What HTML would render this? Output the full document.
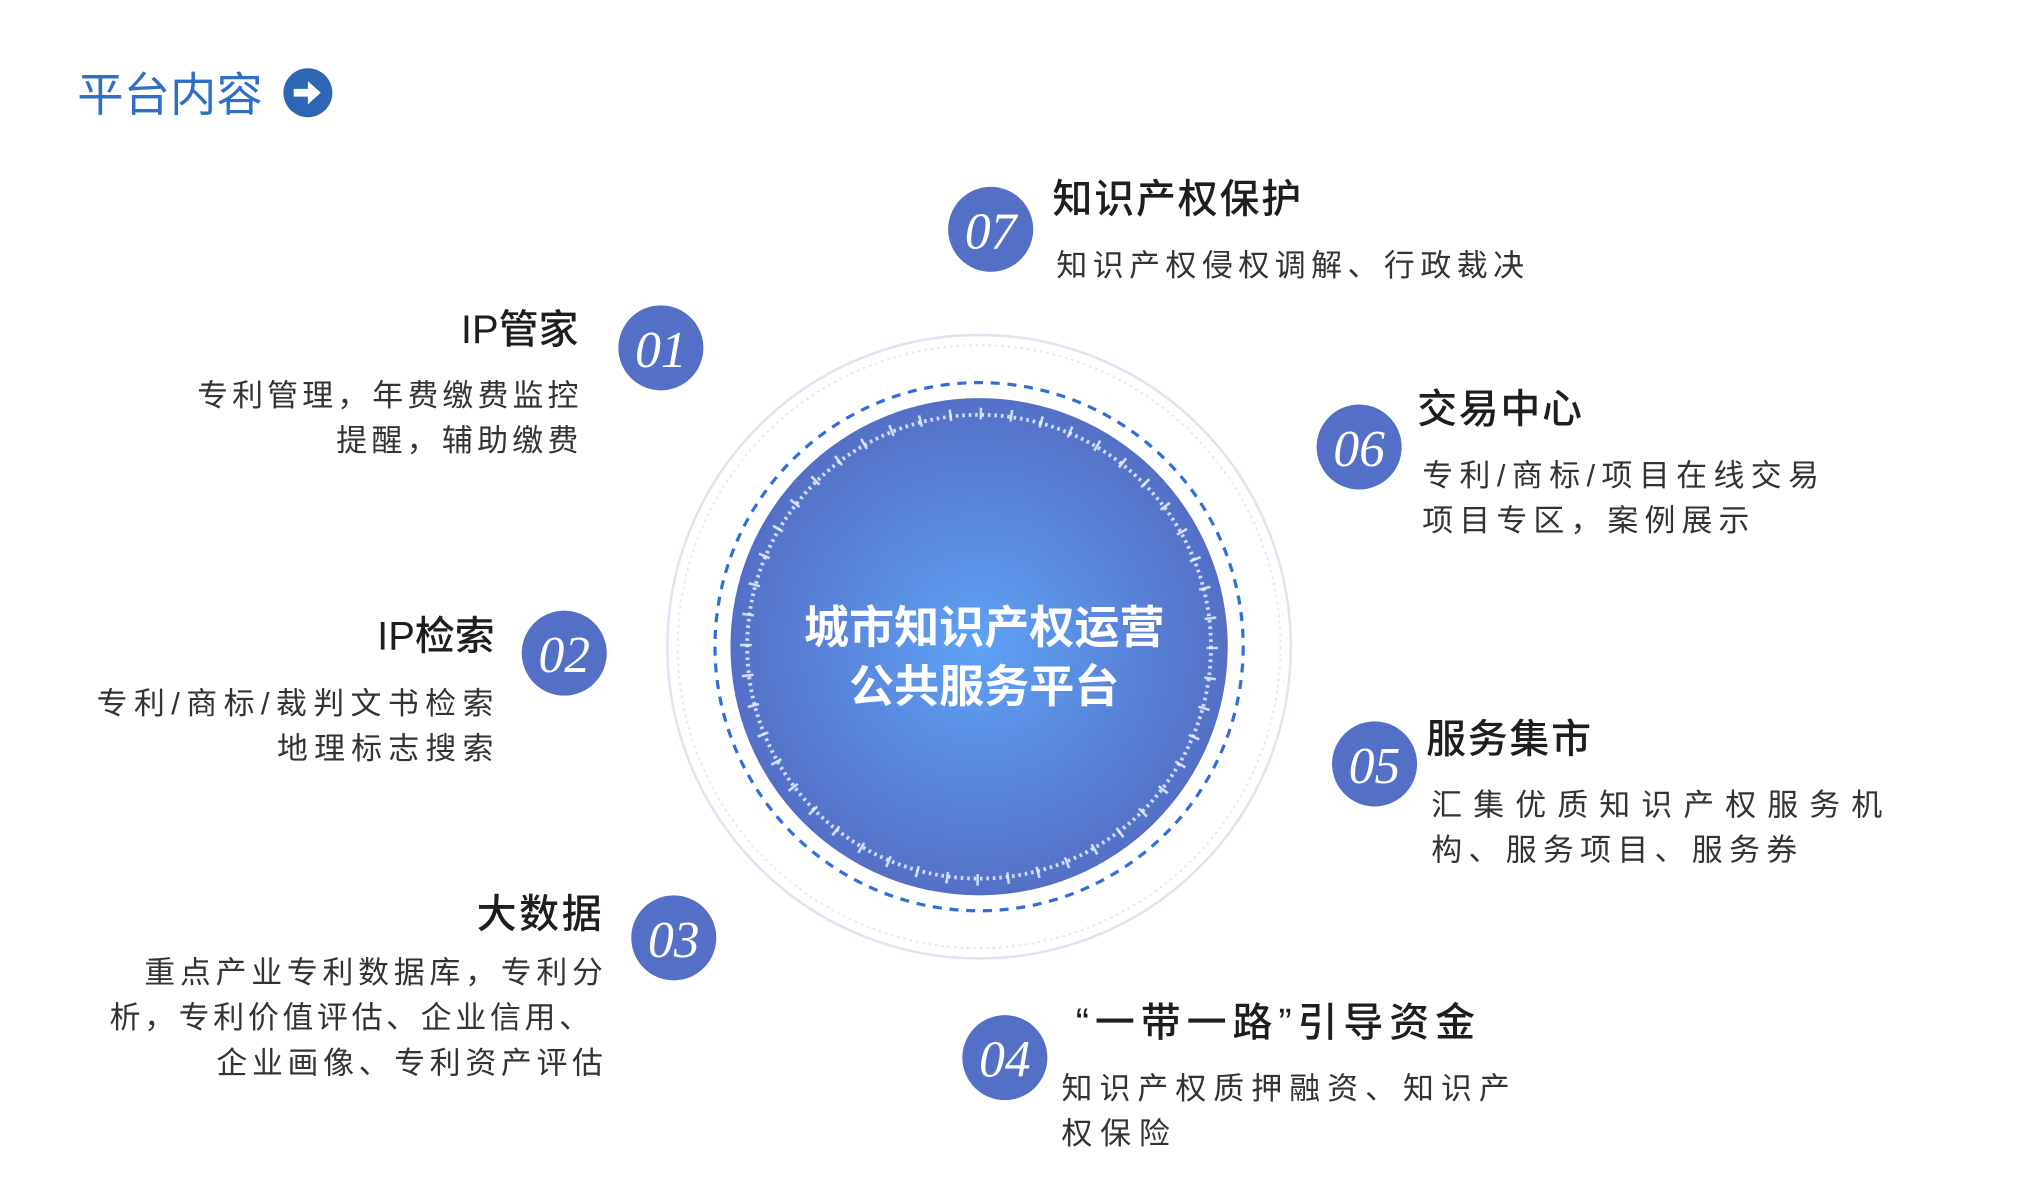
<!DOCTYPE html>
<html><head><meta charset="utf-8"><style>
html,body{margin:0;padding:0;background:#fff;}
svg{display:block}
text{font-family:"Liberation Sans","Noto Sans CJK SC",sans-serif;}
.t{font-size:31px;font-weight:500;fill:#1e1e1e}
.d{font-size:24px;fill:#333}
.n{font-family:"Liberation Serif",serif;font-style:italic;font-size:40px;fill:#fff}
</style></head><body>
<svg width="2020" height="1187" viewBox="0 0 1568 921.4" xmlns="http://www.w3.org/2000/svg">
<defs>
<radialGradient id="g" cx="50%" cy="50%" r="50%">
<stop offset="0" stop-color="#5fa2f6"/><stop offset="1" stop-color="#5470c6"/>
</radialGradient>
</defs>
<text x="60" y="86" style="font-size:36px;fill:#2f6fc5">平台内容</text>
<circle cx="239" cy="72" r="19" fill="#2e66b6"/>
<path d="M228 69h11v-6l10 9-10 9v-6h-11z" fill="#fff"/>

<circle cx="760" cy="502" r="242" fill="none" stroke="#dfe4f2" stroke-width="2"/>
<circle cx="760" cy="502" r="234" fill="none" stroke="#e3e7f2" stroke-width="1.5" stroke-dasharray="2 3"/>
<circle cx="760" cy="502" r="205" fill="none" stroke="#2f6fd8" stroke-width="2.5" stroke-dasharray="7 6"/>
<circle cx="760" cy="502" r="193" fill="url(#g)"/>
<circle cx="760" cy="502" r="180" fill="none" stroke="#e8eefc" stroke-width="3" stroke-dasharray="2 3" opacity=".85"/>
<circle cx="760" cy="502" r="181" fill="none" stroke="#e8eefc" stroke-width="9" stroke-dasharray="2 21.7" opacity=".85"/>
<text x="764" y="487" text-anchor="middle" dominant-baseline="central" style="font-size:35px;font-weight:bold;fill:#fff">城市知识产权运营</text>
<text x="764" y="533" text-anchor="middle" dominant-baseline="central" style="font-size:35px;font-weight:bold;fill:#fff">公共服务平台</text>

<g fill="#5470c6">
<circle cx="769" cy="178" r="33"/><circle cx="513" cy="270" r="33"/><circle cx="1055" cy="347" r="33"/>
<circle cx="438" cy="507" r="33"/><circle cx="1067" cy="593" r="33"/><circle cx="523" cy="728" r="33"/><circle cx="780" cy="821" r="33"/>
</g>
<g text-anchor="middle" dominant-baseline="central">
<text class="n" x="769" y="180">07</text><text class="n" x="513" y="272">01</text><text class="n" x="1055" y="349">06</text>
<text class="n" x="438" y="509">02</text><text class="n" x="1067" y="595">05</text><text class="n" x="523" y="730">03</text><text class="n" x="780" y="823">04</text>
</g>

<g dominant-baseline="central">
<text class="t" x="817" y="155" textLength="193" lengthAdjust="spacing">知识产权保护</text>
<text class="d" x="820" y="206" textLength="363" lengthAdjust="spacing">知识产权侵权调解、行政裁决</text>

<text class="t" x="449" y="256" text-anchor="end">IP管家</text>
<text class="d" x="449" y="307" text-anchor="end" textLength="296" lengthAdjust="spacing">专利管理，年费缴费监控</text>
<text class="d" x="449" y="342" text-anchor="end" textLength="188" lengthAdjust="spacing">提醒，辅助缴费</text>

<text class="t" x="1100" y="318" textLength="128" lengthAdjust="spacing">交易中心</text>
<text class="d" x="1104" y="369" textLength="308" lengthAdjust="spacing">专利/商标/项目在线交易</text>
<text class="d" x="1104" y="404" textLength="254" lengthAdjust="spacing">项目专区，案例展示</text>

<text class="t" x="384" y="494" text-anchor="end">IP检索</text>
<text class="d" x="383" y="546" text-anchor="end" textLength="308" lengthAdjust="spacing">专利/商标/裁判文书检索</text>
<text class="d" x="383" y="581" text-anchor="end" textLength="168" lengthAdjust="spacing">地理标志搜索</text>

<text class="t" x="1107" y="574" textLength="128" lengthAdjust="spacing">服务集市</text>
<text class="d" x="1111" y="625" textLength="350" lengthAdjust="spacing">汇集优质知识产权服务机</text>
<text class="d" x="1111" y="660" textLength="284" lengthAdjust="spacing">构、服务项目、服务券</text>

<text class="t" x="467" y="710" text-anchor="end" textLength="97" lengthAdjust="spacing">大数据</text>
<text class="d" x="468" y="755" text-anchor="end" textLength="356" lengthAdjust="spacing">重点产业专利数据库，专利分</text>
<text class="d" x="458" y="790" text-anchor="end" textLength="373" lengthAdjust="spacing">析，专利价值评估、企业信用、</text>
<text class="d" x="468" y="825" text-anchor="end" textLength="300" lengthAdjust="spacing">企业画像、专利资产评估</text>

<text class="t" x="835" y="794" textLength="310" lengthAdjust="spacing">“一带一路”引导资金</text>
<text class="d" x="824" y="845" textLength="348" lengthAdjust="spacing">知识产权质押融资、知识产</text>
<text class="d" x="824" y="880" textLength="84" lengthAdjust="spacing">权保险</text>
</g>
</svg>
</body></html>
